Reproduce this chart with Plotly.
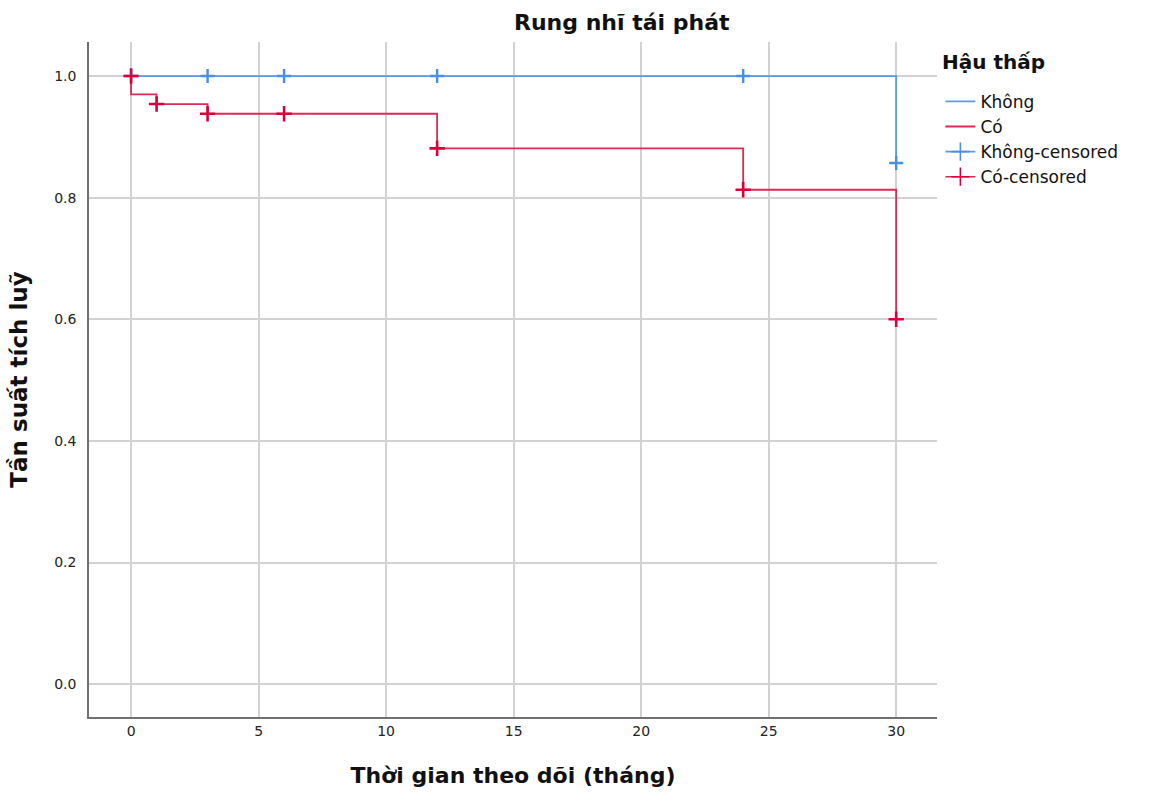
import plotly.graph_objects as go

# Kaplan-Meier step data
khong_t = [0, 30]
khong_s = [1.0, 0.857]
co_t = [0, 0, 1, 3, 12, 24, 30]
co_s = [1.0, 0.970, 0.954, 0.938, 0.881, 0.813, 0.600]

# censored marks
khong_cens_t = [0, 3, 6, 12, 24, 30]
khong_cens_s = [1.0, 1.0, 1.0, 1.0, 1.0, 0.857]
co_cens_t = [0, 1, 3, 6, 12, 24, 30]
co_cens_s = [1.0, 0.954, 0.938, 0.938, 0.881, 0.813, 0.600]

x_ticks = [0, 5, 10, 15, 20, 25, 30]
y_ticks = [0.0, 0.2, 0.4, 0.6, 0.8, 1.0]

BLUE = "#5a9be8"
RED = "#dc2a55"
BLUE_M = "#4a8fe6"
RED_M = "#d9003a"
FONT = "DejaVu Sans"

fig = go.Figure()

fig.add_trace(go.Scatter(x=khong_t, y=khong_s, mode="lines", line_shape="hv",
                         line=dict(color=BLUE, width=1.8), name="Không"))
fig.add_trace(go.Scatter(x=co_t, y=co_s, mode="lines", line_shape="hv",
                         line=dict(color=RED, width=1.8), name="Có"))
fig.add_trace(go.Scatter(x=khong_cens_t, y=khong_cens_s, mode="markers", showlegend=False,
                         marker=dict(symbol="cross-thin", size=10,
                                     line=dict(color=BLUE_M, width=2.4))))
fig.add_trace(go.Scatter(x=co_cens_t, y=co_cens_s, mode="markers", showlegend=False,
                         marker=dict(symbol="cross-thin", size=11,
                                     line=dict(color=RED_M, width=2.6))))
# legend proxies for censored entries
fig.add_trace(go.Scatter(x=[None], y=[None], mode="lines+markers", name="Không-censored",
                         line=dict(color=BLUE, width=1.6),
                         marker=dict(symbol="cross-thin", size=13, line=dict(color=BLUE_M, width=1.6))))
fig.add_trace(go.Scatter(x=[None], y=[None], mode="lines+markers", name="Có-censored",
                         line=dict(color=RED, width=1.6),
                         marker=dict(symbol="cross-thin", size=13, line=dict(color=RED_M, width=1.6))))

fig.update_layout(
    width=1152, height=802,
    margin=dict(l=89, r=215, t=42, b=85),
    paper_bgcolor="white", plot_bgcolor="white",
    font=dict(family=FONT, color="#222222"),
    showlegend=True,
    legend=dict(x=1.004, xanchor="left", y=0.938, yanchor="top",
                font=dict(size=17, color="#111111"),
                tracegroupgap=0, itemwidth=30, bgcolor="rgba(0,0,0,0)"),
    annotations=[
        dict(text="<b>Rung nhĩ tái phát</b>", xref="paper", yref="paper",
             x=0.6285, y=1.0, yshift=20, xanchor="center", yanchor="middle",
             showarrow=False, font=dict(size=22, color="#111111")),
        dict(text="<b>Hậu thấp</b>", xref="paper", yref="paper",
             x=1.0, xshift=3, y=1.0, yshift=-20, xanchor="left", yanchor="middle",
             showarrow=False, font=dict(size=20, color="#111111")),
    ],
)

fig.update_xaxes(
    range=[-1.65, 31.6], tickvals=x_ticks, ticktext=[str(v) for v in x_ticks],
    showgrid=True, gridcolor="#d2d2d2", gridwidth=1.5, zeroline=False,
    showline=True, linecolor="#707070", linewidth=1.5, ticks="",
    tickfont=dict(size=14, color="#222222"),
    title=dict(text="<b>Thời gian theo dõi (tháng)</b>", font=dict(size=22, color="#111111"), standoff=30),
)
fig.update_yaxes(
    range=[-0.054, 1.056], tickvals=y_ticks, ticktext=[f"{v:.1f}" for v in y_ticks],
    showgrid=True, gridcolor="#d2d2d2", gridwidth=1.5, zeroline=False,
    showline=True, linecolor="#707070", linewidth=1.5, ticks="",
    tickfont=dict(size=14, color="#222222"), ticklabelstandoff=8,
    title=dict(text="<b>Tần suất tích luỹ</b>", font=dict(size=23, color="#111111"), standoff=20),
)

fig.write_html("out.html")
